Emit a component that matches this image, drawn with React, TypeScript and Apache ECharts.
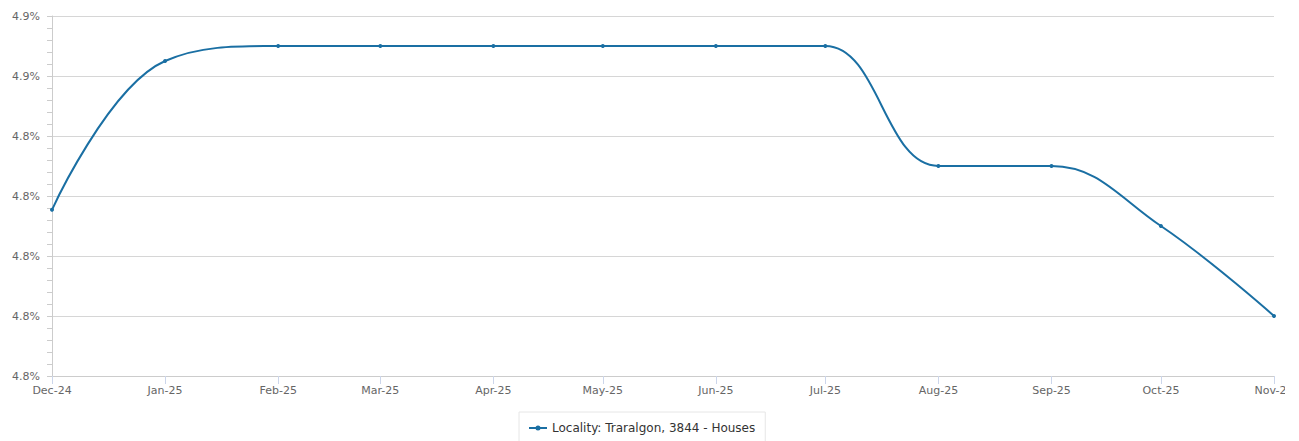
import React, { useEffect, useRef } from "react";
import * as echarts from "echarts";

const dates = ["2024-12-01", "2025-01-01", "2025-02-01", "2025-03-01", "2025-04-01", "2025-05-01", "2025-06-01", "2025-07-01", "2025-08-01", "2025-09-01", "2025-10-01", "2025-11-01"];
const values = [4.8277, 4.8525, 4.855, 4.855, 4.855, 4.855, 4.855, 4.855, 4.835, 4.835, 4.825, 4.81];
const monthLabels = ["Jan", "Feb", "Mar", "Apr", "May", "Jun", "Jul", "Aug", "Sep", "Oct", "Nov", "Dec"];
const seriesName = "Locality: Traralgon, 3844 - Houses";
const yMin = 4.8;
const yMax = 4.86;
const yInterval = 0.01;

const FONT = "DejaVu Sans, Verdana, sans-serif";
const LINE_COLOR = "#1a6fa3";
const DAY = 86400000;

function toTime(s: string) {
  const [y, m, d] = s.split("-").map(Number);
  return new Date(y, m - 1, d).getTime();
}

export default function App() {
  const ref = useRef<HTMLDivElement>(null);
  useEffect(() => {
    if (!ref.current) return;
    const chart = echarts.init(ref.current, null, { renderer: "svg" });
    const times = dates.map(toTime);
    chart.setOption({
      animation: false,
      backgroundColor: "#ffffff",
      textStyle: { fontFamily: FONT },
      grid: { left: 44, right: 11, top: 8, bottom: 65, containLabel: false, outerBoundsMode: "none" },
      legend: {
        show: true,
        top: 404,
        left: 511,
        padding: [10, 10],
        borderColor: "#e6e6e6",
        borderWidth: 1,
        itemWidth: 18,
        itemHeight: 12,
        itemGap: 5,
        textStyle: { color: "#333", fontSize: 12, fontFamily: FONT },
        data: [
          {
            name: seriesName,
            icon: "path://M0,5 H18 V7 H0 Z M9,3.5 A2.5,2.5 0 1,1 9,8.5 A2.5,2.5 0 1,1 9,3.5 Z",
            itemStyle: { color: LINE_COLOR },
          },
        ],
      },
      xAxis: {
        type: "time",
        min: times[0],
        max: times[times.length - 1],
        splitNumber: 11,
        minInterval: 28 * DAY,
        maxInterval: 31 * DAY,
        axisLine: { lineStyle: { color: "#cccccc", width: 1 } },
        axisTick: { show: true, length: 8, lineStyle: { color: "#ccd6eb" } },
        axisLabel: {
          color: "#666",
          fontSize: 11,
          fontFamily: FONT,
          margin: 9,
          showMinLabel: true,
          showMaxLabel: true,
          hideOverlap: false,
          formatter: (v: number) => {
            const d = new Date(v);
            return monthLabels[d.getMonth()] + "-" + String(d.getFullYear()).slice(2);
          },
        },
        splitLine: { show: false },
      },
      yAxis: {
        type: "value",
        min: yMin,
        max: yMax,
        interval: yInterval,
        axisLine: { show: true, lineStyle: { color: "#cccccc" } },
        axisTick: { show: true, length: 5, lineStyle: { color: "#cccccc" } },
        minorTick: { show: true, splitNumber: 5, length: 5, lineStyle: { color: "#cccccc" } },
        splitLine: { show: true, lineStyle: { color: "#d6d6d6", width: 1 } },
        axisLabel: {
          color: "#666",
          fontSize: 11,
          fontFamily: FONT,
          margin: 12,
          formatter: (v: number) => {
            const r = Math.round(Math.round(v * 100) / 10) / 10;
            return r.toFixed(1) + "%";
          },
        },
      },
      series: [
        {
          name: seriesName,
          type: "line",
          data: times.map((t, i) => [t, values[i]]),
          smooth: 0.4,
          symbol: "circle",
          symbolSize: 4,
          lineStyle: { color: LINE_COLOR, width: 2 },
          itemStyle: { color: LINE_COLOR },
        },
      ],
    });
    return () => chart.dispose();
  }, []);
  return (
    <div
      ref={ref}
      style={{ position: "fixed", left: 8, top: 8, width: 1277, height: 433, overflow: "hidden" }}
    />
  );
}
